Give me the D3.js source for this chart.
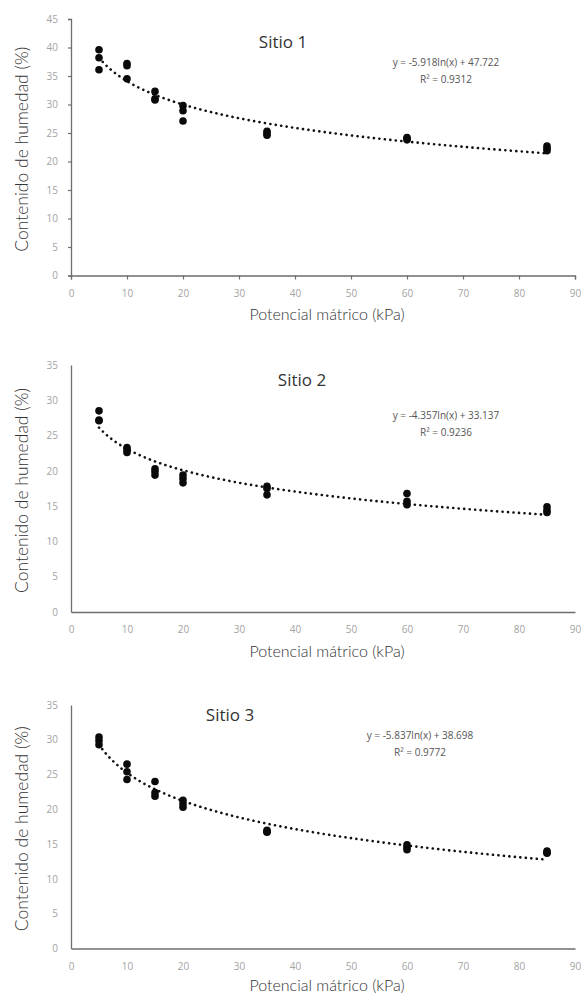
<!DOCTYPE html>
<html>
<head>
<meta charset="utf-8">
<script src="https://cdn.jsdelivr.net/npm/d3@7"></script>
<style>
  body { margin: 0; background: #fff; }
  svg { display: block; }
</style>
</head>
<body>
<svg id="chart" width="581" height="994"></svg>
<script>
// Data
const potencial = [5, 10, 15, 20, 35, 60, 85];
const sitio1 = [[39.6, 38.2, 36.1], [37.2, 36.8, 34.5], [32.3, 31.0, 30.8], [29.8, 28.9, 27.1],
                [25.3, 24.9, 24.6], [24.2, 24.0, 23.8], [22.7, 22.3, 21.9]];
const sitio2 = [[28.5, 27.2, 27.1], [23.3, 23.0, 22.6], [20.3, 19.9, 19.4], [19.4, 18.9, 18.3],
                [17.8, 17.5, 16.6], [16.8, 15.7, 15.2], [14.9, 14.4, 14.1]];
const sitio3 = [[30.4, 29.9, 29.3], [26.5, 25.4, 24.3], [24.0, 22.4, 21.9], [21.3, 20.8, 20.3],
                [17.0, 16.8, 16.7], [14.9, 14.5, 14.2], [14.0, 13.8, 13.7]];
const sitios = ["Sitio 1", "Sitio 2", "Sitio 3"];
const pendiente = [-5.918, -4.357, -5.837];
const intercepto = [47.722, 33.137, 38.698];
const r2 = ["0.9312", "0.9236", "0.9772"];
const ecuaciones = ["y = -5.918ln(x) + 47.722", "y = -4.357ln(x) + 33.137", "y = -5.837ln(x) + 38.698"];
const xTicks = [0, 10, 20, 30, 40, 50, 60, 70, 80, 90];
const yTicks1 = [0, 5, 10, 15, 20, 25, 30, 35, 40, 45];
const yTicks23 = [0, 5, 10, 15, 20, 25, 30, 35];

const series = [sitio1, sitio2, sitio3];
const yTicksAll = [yTicks1, yTicks23, yTicks23];

// Panel layout (pixels)
const panels = [
  {left: 71, right: 575, top: 19, bottom: 275.5, tick: 4, ytick: 3, title: [283, 48], eq: [446, 66], xt: 320},
  {left: 71, right: 575, top: 365, bottom: 612, tick: 0, ytick: 0, title: [302, 386], eq: [446, 419], xt: 657},
  {left: 71, right: 575, top: 705, bottom: 948.5, tick: 0, ytick: 0, title: [230, 721], eq: [420, 739], xt: 991}
];

const svg = d3.select("#chart");

panels.forEach((p, i) => {
  const yT = yTicksAll[i];
  const x = d3.scaleLinear().domain([0, 90]).range([p.left, p.right]);
  const y = d3.scaleLinear().domain([0, d3.max(yT)]).range([p.bottom, p.top]);
  const g = svg.append("g");

  // Axes
  const xAxis = g.append("g")
    .attr("transform", `translate(0,${p.bottom})`)
    .call(d3.axisBottom(x).tickValues(xTicks).tickSizeOuter(0).tickSize(p.tick).tickPadding(14 - p.tick));
  const yAxis = g.append("g")
    .attr("transform", `translate(${p.left},0)`)
    .call(d3.axisLeft(y).tickValues(yT).tickSizeOuter(0).tickSize(p.ytick).tickPadding(13 - p.ytick));

  [xAxis, yAxis].forEach(a => {
    a.select(".domain").attr("stroke", "#6e6e6e").attr("stroke-width", 1.3);
    a.selectAll(".tick line").attr("stroke", "#6e6e6e").attr("stroke-width", 1.2);
    a.selectAll(".tick text")
      .attr("fill", "#a3a3a3")
      .style("font-family", "'Open Sans', sans-serif")
      .style("font-size", "10px");
  });

  // Trendline from the fitted equation
  const trendPts = d3.range(potencial[0], potencial[potencial.length - 1] + 0.5, 0.5)
    .map(v => [v, pendiente[i] * Math.log(v) + intercepto[i]]);
  g.append("path")
    .datum(trendPts)
    .attr("d", d3.line().x(d => x(d[0])).y(d => y(d[1])))
    .attr("fill", "none")
    .attr("stroke", "#111")
    .attr("stroke-width", 2.6)
    .attr("stroke-linecap", "round")
    .attr("stroke-dasharray", "0.1,5.4");

  // Points
  const pts = [];
  series[i].forEach((vals, j) => vals.forEach(v => pts.push([potencial[j], v])));
  g.selectAll("circle.pt")
    .data(pts)
    .enter().append("circle")
    .attr("class", "pt")
    .attr("cx", d => x(d[0]))
    .attr("cy", d => y(d[1]))
    .attr("r", 3.8)
    .attr("fill", "#0a0a0a");

  // Title
  g.append("text")
    .attr("x", p.title[0])
    .attr("y", p.title[1])
    .attr("text-anchor", "middle")
    .attr("fill", "#333")
    .style("font-family", "'Open Sans', sans-serif")
    .style("font-size", "17px")
    .text(sitios[i]);

  // Equation and R²
  g.append("text")
    .attr("x", p.eq[0])
    .attr("y", p.eq[1])
    .attr("text-anchor", "middle")
    .attr("fill", "#555")
    .style("font-family", "'Open Sans', sans-serif")
    .style("font-size", "10px")
    .text(ecuaciones[i]);
  g.append("text")
    .attr("x", p.eq[0])
    .attr("y", p.eq[1] + 17)
    .attr("text-anchor", "middle")
    .attr("fill", "#555")
    .style("font-family", "'Open Sans', sans-serif")
    .style("font-size", "10px")
    .text(`R² = ${r2[i]}`);

  // Axis titles
  g.append("text")
    .attr("x", 327)
    .attr("y", p.xt)
    .attr("text-anchor", "middle")
    .attr("fill", "#333")
    .style("font-family", "Lato, sans-serif")
    .style("font-weight", 300)
    .style("font-size", "16px")
    .text("Potencial mátrico (kPa)");
  g.append("text")
    .attr("transform", `translate(28,${(p.top + p.bottom) / 2 + 2}) rotate(-90)`)
    .attr("text-anchor", "middle")
    .attr("fill", "#333")
    .style("font-family", "Lato, sans-serif")
    .style("font-weight", 300)
    .style("font-size", "17.5px")
    .text("Contenido de humedad (%)");
});
</script>
</body>
</html>
